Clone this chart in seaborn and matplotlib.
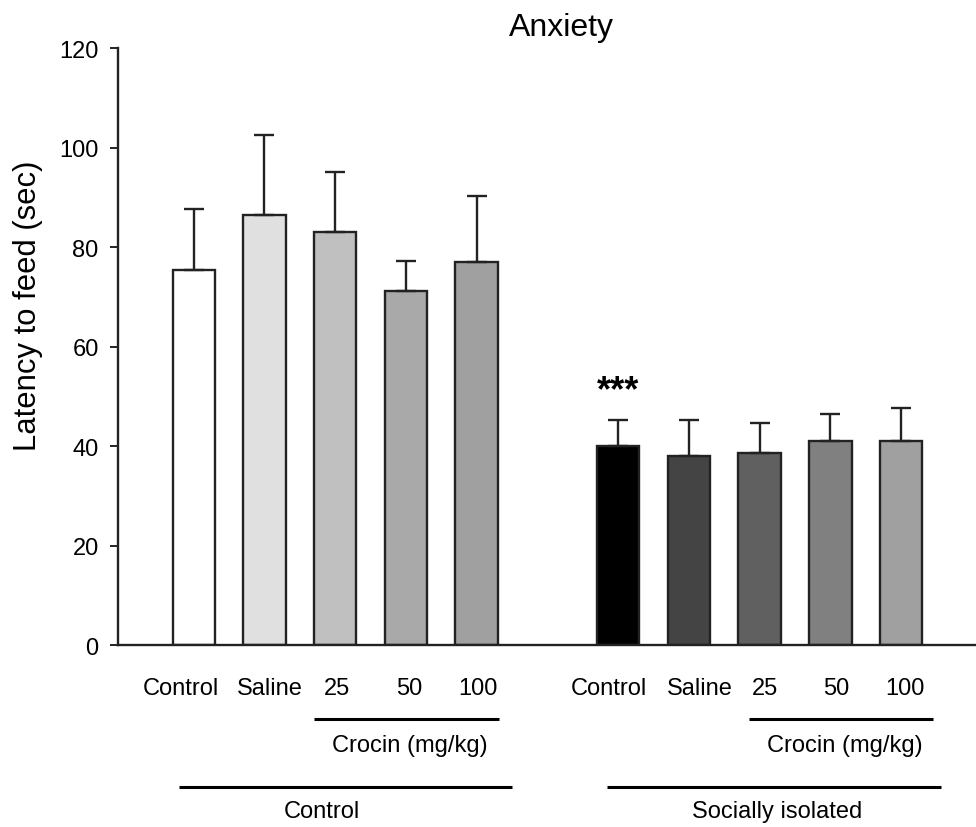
import matplotlib
matplotlib.use("Agg")
import matplotlib.pyplot as plt
import matplotlib.transforms as mtransforms
import seaborn as sns
import pandas as pd
import numpy as np

# ---- data ----
groups = ["Control"] * 5 + ["Socially isolated"] * 5
treatments = ["Control", "Saline", "25", "50", "100",
              "Control", "Saline", "25", "50", "100"]
latency = [75.3, 86.5, 83.1, 71.2, 77.1,
           40.1, 38.1, 38.7, 41.1, 41.1]
sem = [12.4, 16.1, 11.9, 6.1, 13.1,
       5.2, 7.1, 6.0, 5.3, 6.5]
bar_colors = ["#ffffff", "#e0e0e0", "#c0c0c0", "#a9a9a9", "#a0a0a0",
              "#000000", "#444444", "#606060", "#808080", "#a0a0a0"]
y_ticks = [0, 20, 40, 60, 80, 100, 120]
title = "Anxiety"
y_label = "Latency to feed (sec)"
sub_label = "Crocin (mg/kg)"
group_names = ["Control", "Socially isolated"]
star_text = "***"

# positions: two groups of five with a gap of one slot
pos = [0, 1, 2, 3, 4, 6, 7, 8, 9, 10]

df = pd.DataFrame({"pos": pos, "treatment": treatments, "group": groups,
                   "latency": latency, "sem": sem})

sns.set_style("white")
plt.rcParams["font.family"] = ["Liberation Sans", "DejaVu Sans"]
plt.rcParams["text.color"] = "black"
plt.rcParams["axes.labelcolor"] = "black"
plt.rcParams["xtick.color"] = "black"
plt.rcParams["ytick.color"] = "black"

fig = plt.figure(figsize=(9.76, 8.28), dpi=100)
ax = fig.add_axes([0.121, 0.2195, 0.879, 0.7213])

palette = {p: c for p, c in zip(pos, bar_colors)}
sns.barplot(data=df, x="pos", y="latency", hue="pos", palette=palette,
            native_scale=True, dodge=False, width=0.6, legend=False,
            edgecolor="#222222", linewidth=1.7, errorbar=None, ax=ax)

ax.errorbar(df["pos"], df["latency"], yerr=[np.zeros(len(df)), df["sem"]],
            fmt="none", ecolor="#222222", elinewidth=1.7, capsize=7,
            capthick=1.7, zorder=1)

ax.set_xlim(-1.07, 11.06)
ax.set_ylim(0, 120)
ax.set_yticks(y_ticks)
ax.set_yticklabels([str(t) for t in y_ticks], fontsize=17)
ax.set_xticks(pos)
ax.set_xticklabels(treatments, fontsize=17)
ax.tick_params(axis="x", length=0, pad=22.5)
ax.tick_params(axis="y", direction="out", length=6, width=1.4, pad=8,
               left=True, colors="#222222", labelcolor="black")

# small horizontal nudges of the treatment labels (pixels)
nudges = [-13, 5, 2, 3, 1, -9, 11, 5, 6, 4]
for lbl, dx in zip(ax.get_xticklabels(), nudges):
    lbl.set_transform(lbl.get_transform() +
                      mtransforms.ScaledTranslation(dx / 100, 0,
                                                    fig.dpi_scale_trans))

ax.set_xlabel("")
ax.set_ylabel(y_label, fontsize=22.3)
ax.yaxis.set_label_coords(-0.087, 0.570)
ax.set_title(title, fontsize=23, pad=9.5, x=0.517)

for side in ["top", "right"]:
    ax.spines[side].set_visible(False)
for side in ["left", "bottom"]:
    ax.spines[side].set_color("#222222")
    ax.spines[side].set_linewidth(1.7)

# significance stars
ax.text(pos[5], 47.6, star_text, ha="center", va="bottom", fontsize=26,
        fontweight="bold")

# bracket annotations below the axis
tr = ax.get_xaxis_transform()
for x0, x1, xc in [(1.70, 4.32, 3.06), (7.85, 10.45, 9.2)]:
    ax.plot([x0, x1], [-0.124, -0.124], transform=tr, color="black",
            lw=2.2, clip_on=False, solid_capstyle="butt")
    ax.text(xc, -0.167, sub_label, transform=tr, ha="center", va="center",
            fontsize=17)
for (x0, x1, xc), name in zip([(-0.21, 4.50, 1.81), (5.84, 10.57, 8.25)],
                              group_names):
    ax.plot([x0, x1], [-0.237, -0.237], transform=tr, color="black",
            lw=2.2, clip_on=False, solid_capstyle="butt")
    ax.text(xc, -0.2775, name, transform=tr, ha="center", va="center",
            fontsize=17)

fig.savefig("out.png", dpi=100)
